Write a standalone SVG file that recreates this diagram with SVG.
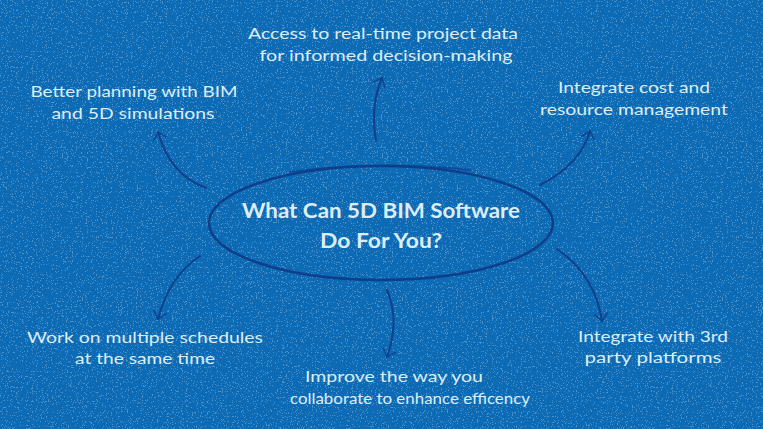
<svg xmlns="http://www.w3.org/2000/svg" width="763" height="429" viewBox="0 0 763 429">
<defs>
<filter id="speck" x="0" y="0" width="100%" height="100%">
<feTurbulence type="fractalNoise" baseFrequency="0.8" numOctaves="2" seed="4" result="n"/>
<feColorMatrix in="n" type="matrix" values="0 0 0 0 0.75  0 0 0 0 0.85  0 0 0 0 0.95  0 0 0 -30 11" result="s"/>
<feComposite in="s" in2="SourceGraphic" operator="in"/>
</filter>
<marker id="ah" viewBox="0 0 20 20" refX="10" refY="10" markerWidth="16" markerHeight="16" markerUnits="userSpaceOnUse" orient="auto">
<path d="M1,2 L10,10 L1,18" fill="none" stroke="#123f8c" stroke-width="1.6" stroke-linecap="round"/>
</marker>
</defs>
<style>
.t{font-family:"Lato","Open Sans",sans-serif;fill:#dcedf8;font-size:16px;text-anchor:middle}
.title{font-family:"Lato","Open Sans",sans-serif;fill:#dcedf8;font-size:21px;font-weight:bold;text-anchor:middle}
.c{fill:none;stroke:#123f8c;stroke-width:2;stroke-linecap:round}
.el{fill:none;stroke:#0f3f8a;stroke-linecap:round}
</style>
<rect width="763" height="429" fill="#0c6bb4"/>
<rect width="763" height="429" fill="#0c6bb4" filter="url(#speck)" opacity="0.3"/>
<g id="center">
<ellipse class="el" cx="381" cy="223" rx="172" ry="57" stroke-width="2.5"/>
<path class="el" d="M290,172 Q380,160 470,170" stroke-width="2" opacity="0.7"/>
<text class="title" x="381" y="218" textLength="278" lengthAdjust="spacingAndGlyphs">What Can 5D BIM Software</text>
<text class="title" x="381" y="248" textLength="122" lengthAdjust="spacingAndGlyphs">Do For You?</text>
</g>
<g id="n-top">
<text class="t" x="383" y="39" textLength="270" lengthAdjust="spacingAndGlyphs">Access to real-time project data</text>
<text class="t" x="386" y="61" textLength="253" lengthAdjust="spacingAndGlyphs">for informed decision-making</text>
</g>
<g id="n-topleft">
<text class="t" x="134" y="97" textLength="207" lengthAdjust="spacingAndGlyphs">Better planning with BIM</text>
<text class="t" x="133" y="119" textLength="163" lengthAdjust="spacingAndGlyphs">and 5D simulations</text>
</g>
<g id="n-topright">
<text class="t" x="634" y="93" textLength="152" lengthAdjust="spacingAndGlyphs">Integrate cost and</text>
<text class="t" x="634" y="115" textLength="188" lengthAdjust="spacingAndGlyphs">resource management</text>
</g>
<g id="n-botleft">
<text class="t" x="145" y="343" textLength="236" lengthAdjust="spacingAndGlyphs">Work on multiple schedules</text>
<text class="t" x="145" y="364" textLength="140" lengthAdjust="spacingAndGlyphs">at the same time</text>
</g>
<g id="n-bottom">
<text class="t" x="394" y="382" textLength="178" lengthAdjust="spacingAndGlyphs">Improve the way you</text>
<text class="t" x="410" y="404" textLength="240" lengthAdjust="spacingAndGlyphs">collaborate to enhance efficency</text>
</g>
<g id="n-botright">
<text class="t" x="653" y="342" textLength="150" lengthAdjust="spacingAndGlyphs">Integrate with 3rd</text>
<text class="t" x="653" y="363" textLength="137" lengthAdjust="spacingAndGlyphs">party platforms</text>
</g>
<g id="connectors">
<path class="c" d="M376,141 Q370,105 382,78" marker-end="url(#ah)"/>
<path class="c" d="M206,188 Q170,175 158,132" marker-end="url(#ah)"/>
<path class="c" d="M540,185 Q580,165 590,131" marker-end="url(#ah)"/>
<path class="c" d="M200,256 Q170,275 158,319" marker-end="url(#ah)"/>
<path class="c" d="M387,290 Q400,320 387,357" marker-end="url(#ah)"/>
<path class="c" d="M557,249 Q595,275 602,321" marker-end="url(#ah)"/>
</g>
</svg>
